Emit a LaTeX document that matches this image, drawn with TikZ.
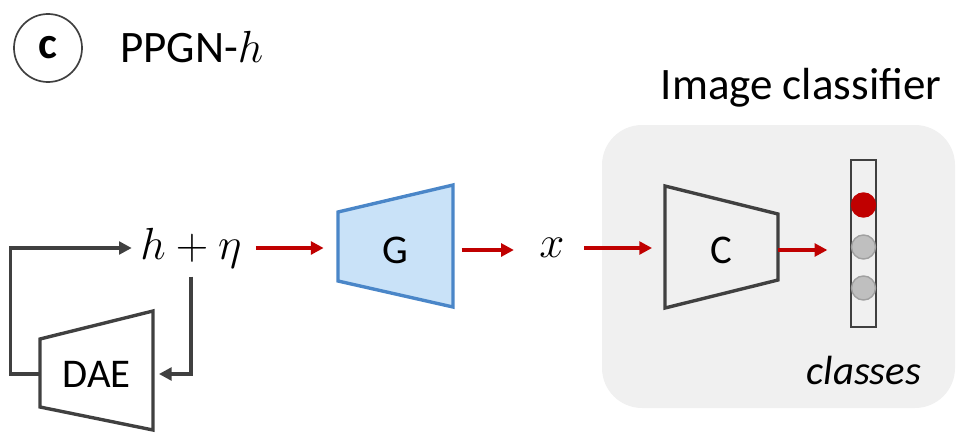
\RequirePackage{fix-cm}
\documentclass[tikz,border=0pt]{standalone}
\usepackage{fontspec}
\setmainfont{Carlito}
\usetikzlibrary{arrows.meta}
\definecolor{linegray}{HTML}{404040}
\definecolor{arrred}{HTML}{C00000}
\definecolor{gfill}{HTML}{C9E2F8}
\definecolor{gline}{HTML}{4A86C8}
\definecolor{panel}{HTML}{F0F0F0}
\definecolor{dotgray}{HTML}{BFBFBF}
\definecolor{dotline}{HTML}{A0A0A0}
\tikzset{
  net/.style={draw=linegray, line width=2.4pt, line join=miter},
  redarrow/.style={draw=arrred, line width=2.4pt, -{Triangle[length=9pt,width=9pt]}},
  grayarrow/.style={draw=linegray, line width=2.4pt, -{Triangle[length=9pt,width=9pt]}},
  lbl/.style={font=\fontsize{29}{34}\selectfont, inner sep=0pt},
  big/.style={font=\fontsize{32}{38}\selectfont, inner sep=0pt}
}
\begin{document}
\begin{tikzpicture}[x=0.025cm, y=-0.025cm]
\useasboundingbox (0,0) rectangle (958,434);
\fill[panel, rounded corners=1cm] (602,125) rectangle (955,408);
\node[big, circle, draw=linegray, line width=1.2pt, minimum size=1.7cm] (tag) at (48,48) {\textbf{c}};
\node[big, anchor=west] (title) at (120,47) {PPGN-$h$};
\node[big] (head) at (801,88) {Image classifier};
% networks
\draw[net] (40,339) -- (153,311) -- (153,430) -- (40,407) -- cycle;
\draw[draw=gline, fill=gfill, line width=2.4pt] (338,212) -- (453,185) -- (453,307) -- (338,281) -- cycle;
\draw[net] (665,186) -- (778,214) -- (778,280) -- (665,308) -- cycle;
\node[lbl, minimum width=2.825cm] (dae) at (96.5,374) {DAE};
\node[lbl, minimum width=2.875cm] (gen) at (395.5,250) {G};
\node[lbl, minimum width=2.825cm] (cls) at (721.5,250) {C};
\node[big] (hn) at (191,248) {$h+\eta$};
\node[big] (x) at (552,248) {$x$};
% output vector
\node[draw=linegray, line width=1.6pt, minimum width=0.625cm, minimum height=4.175cm, inner sep=0pt] (vec) at (863.5,243.5) {};
\foreach \i/\y/\c/\e in {1/205/arrred/arrred, 2/247/dotgray/dotline, 3/288/dotgray/dotline}
  \node[circle, fill=\c, draw=\e, line width=1pt, minimum size=0.6cm, inner sep=0pt] (dot\i) at (863.5,\y) {};
\node[lbl, font=\fontsize{29}{34}\selectfont\itshape] (classes) at (864,370) {classes};
% arrows
\draw[redarrow, shorten <=10pt, shorten >=10pt] (hn.east) -- (hn.east -| gen.west);
\draw[redarrow, shorten <=6pt, shorten >=18pt] (gen.east) -- (gen.east -| x.west);
\draw[redarrow, shorten <=14pt, shorten >=9pt] (x.east) -- (x.east -| cls.west);
\draw[redarrow, shorten >=16pt] (cls.east) -- (cls.east -| vec.west);
\draw[grayarrow, shorten <=6pt, shorten >=4pt] (hn.south) |- (dae.east);
\draw[grayarrow, shorten >=6pt] (dae.west) -- ++(-29,0) |- (hn.west);
\end{tikzpicture}
\end{document}
